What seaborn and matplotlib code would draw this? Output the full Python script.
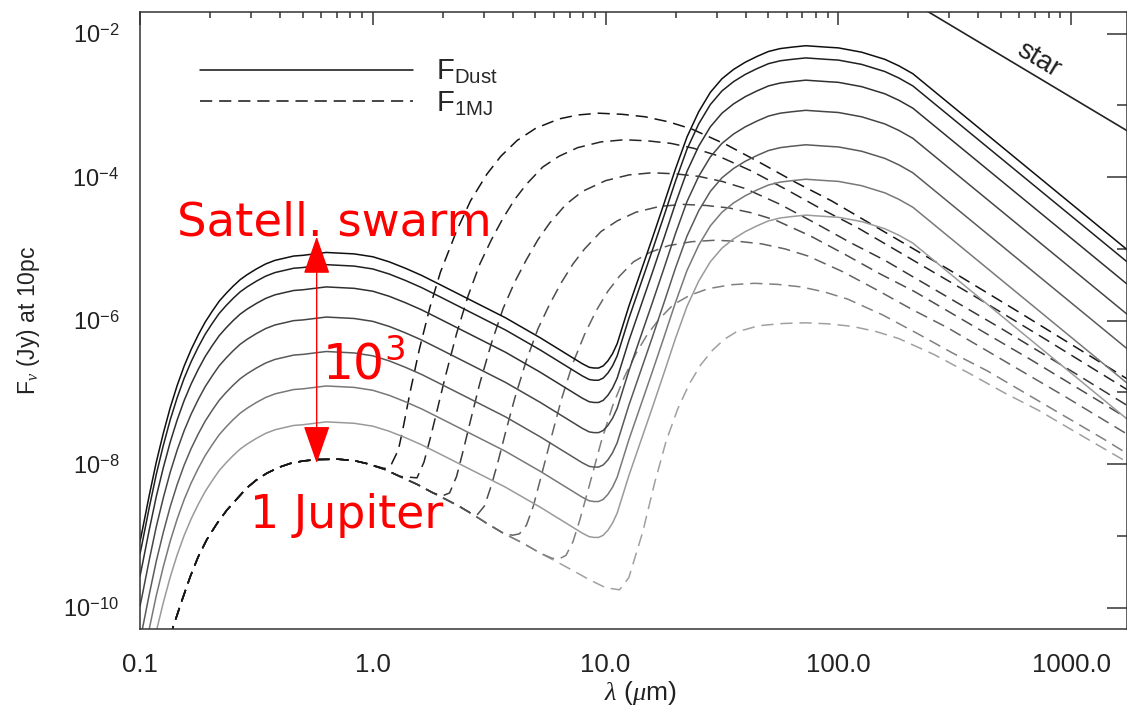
import numpy as np
import matplotlib
matplotlib.use('Agg')
import matplotlib.pyplot as plt
from matplotlib.ticker import FixedLocator, LogLocator, NullFormatter
import seaborn as sns

# all values are log10 (lambda in micron, F_nu in Jy)
dust_log_lam = [-1.0, -0.99, -0.96, -0.93, -0.9, -0.87, -0.84, -0.81, -0.78, -0.75,
                -0.72, -0.69, -0.66, -0.63, -0.6, -0.57, -0.54, -0.5, -0.46, -0.42,
                -0.38, -0.34, -0.3, -0.25, -0.2, -0.14, -0.08, 0.0, 0.07, 0.14,
                0.21, 0.29, 0.43, 0.57, 0.72, 0.86, 0.9, 0.93, 0.95, 0.97,
                0.99, 1.01, 1.03, 1.05, 1.1, 1.15, 1.2, 1.25, 1.3, 1.35,
                1.4, 1.45, 1.5, 1.55, 1.6, 1.65, 1.7, 1.75, 1.8, 1.86,
                1.95, 2.0, 2.1, 2.2, 2.26, 2.32, 3.24]

dust_1 = [-9.08, -8.92, -8.43, -7.97, -7.57, -7.21, -6.90, -6.63, -6.40, -6.20,
          -6.02, -5.87, -5.73, -5.62, -5.52, -5.43, -5.36, -5.28, -5.21, -5.16,
          -5.13, -5.10, -5.09, -5.07, -5.05, -5.06, -5.07, -5.11, -5.18, -5.27,
          -5.37, -5.50, -5.73, -5.96, -6.24, -6.52, -6.60, -6.65, -6.66, -6.66,
          -6.63, -6.56, -6.46, -6.32, -5.80, -5.33, -4.86, -4.38, -3.89, -3.44,
          -3.09, -2.82, -2.63, -2.50, -2.40, -2.32, -2.25, -2.21, -2.19, -2.17,
          -2.19, -2.20, -2.26, -2.36, -2.45, -2.56, -5.01]
dust_2 = [-9.25, -9.09, -8.60, -8.14, -7.74, -7.38, -7.07, -6.80, -6.57, -6.37,
          -6.19, -6.04, -5.90, -5.79, -5.69, -5.60, -5.53, -5.45, -5.38, -5.33,
          -5.30, -5.27, -5.26, -5.24, -5.22, -5.23, -5.24, -5.28, -5.35, -5.44,
          -5.54, -5.67, -5.90, -6.13, -6.41, -6.69, -6.77, -6.82, -6.83, -6.83,
          -6.80, -6.73, -6.63, -6.49, -5.97, -5.50, -5.03, -4.55, -4.06, -3.61,
          -3.26, -2.99, -2.80, -2.67, -2.57, -2.49, -2.42, -2.38, -2.36, -2.34,
          -2.36, -2.37, -2.43, -2.53, -2.62, -2.73, -5.18]
dust_3 = [-9.56, -9.40, -8.91, -8.45, -8.05, -7.69, -7.38, -7.11, -6.88, -6.68,
          -6.50, -6.35, -6.21, -6.10, -6.00, -5.91, -5.84, -5.76, -5.69, -5.64,
          -5.61, -5.58, -5.57, -5.55, -5.53, -5.54, -5.55, -5.59, -5.66, -5.75,
          -5.85, -5.98, -6.21, -6.44, -6.72, -7.00, -7.08, -7.13, -7.14, -7.14,
          -7.11, -7.04, -6.94, -6.80, -6.28, -5.81, -5.34, -4.86, -4.37, -3.92,
          -3.57, -3.30, -3.11, -2.98, -2.88, -2.80, -2.73, -2.69, -2.67, -2.65,
          -2.67, -2.68, -2.74, -2.84, -2.93, -3.04, -5.49]
dust_4 = [-9.98, -9.82, -9.33, -8.87, -8.47, -8.11, -7.80, -7.53, -7.30, -7.10,
          -6.92, -6.77, -6.63, -6.52, -6.42, -6.33, -6.26, -6.18, -6.11, -6.06,
          -6.03, -6.00, -5.99, -5.97, -5.95, -5.96, -5.97, -6.01, -6.08, -6.17,
          -6.27, -6.40, -6.63, -6.86, -7.14, -7.42, -7.50, -7.55, -7.56, -7.56,
          -7.53, -7.46, -7.36, -7.22, -6.70, -6.23, -5.76, -5.28, -4.79, -4.34,
          -3.99, -3.72, -3.53, -3.40, -3.30, -3.22, -3.15, -3.11, -3.09, -3.07,
          -3.09, -3.10, -3.16, -3.26, -3.35, -3.46, -5.91]
dust_5 = [-10.46, -10.30, -9.81, -9.35, -8.95, -8.59, -8.28, -8.01, -7.78, -7.58,
          -7.40, -7.25, -7.11, -7.00, -6.90, -6.81, -6.74, -6.66, -6.59, -6.54,
          -6.51, -6.48, -6.47, -6.45, -6.43, -6.44, -6.45, -6.49, -6.56, -6.65,
          -6.75, -6.88, -7.11, -7.34, -7.62, -7.90, -7.98, -8.03, -8.04, -8.04,
          -8.01, -7.94, -7.84, -7.70, -7.18, -6.71, -6.24, -5.76, -5.27, -4.82,
          -4.47, -4.20, -4.01, -3.88, -3.78, -3.70, -3.63, -3.59, -3.57, -3.55,
          -3.57, -3.58, -3.64, -3.74, -3.83, -3.94, -6.39]
dust_6 = [-10.94, -10.78, -10.29, -9.83, -9.43, -9.07, -8.76, -8.49, -8.26, -8.06,
          -7.88, -7.73, -7.59, -7.48, -7.38, -7.29, -7.22, -7.14, -7.07, -7.02,
          -6.99, -6.96, -6.95, -6.93, -6.91, -6.92, -6.93, -6.97, -7.04, -7.13,
          -7.23, -7.36, -7.59, -7.82, -8.10, -8.38, -8.46, -8.51, -8.52, -8.52,
          -8.49, -8.42, -8.32, -8.18, -7.66, -7.19, -6.72, -6.24, -5.75, -5.30,
          -4.95, -4.68, -4.49, -4.36, -4.26, -4.18, -4.11, -4.07, -4.05, -4.03,
          -4.05, -4.06, -4.12, -4.22, -4.31, -4.42, -6.87]
dust_7 = [-11.44, -11.28, -10.79, -10.33, -9.93, -9.57, -9.26, -8.99, -8.76, -8.56,
          -8.38, -8.23, -8.09, -7.98, -7.88, -7.79, -7.72, -7.64, -7.57, -7.52,
          -7.49, -7.46, -7.45, -7.43, -7.41, -7.42, -7.43, -7.47, -7.54, -7.63,
          -7.73, -7.86, -8.09, -8.32, -8.60, -8.88, -8.96, -9.01, -9.02, -9.02,
          -8.99, -8.92, -8.82, -8.68, -8.16, -7.69, -7.22, -6.74, -6.25, -5.80,
          -5.45, -5.18, -4.99, -4.86, -4.76, -4.68, -4.61, -4.57, -4.55, -4.53,
          -4.55, -4.56, -4.62, -4.72, -4.81, -4.92, -7.37]

# reflected light shared by all 1 MJ curves
planet_refl_lam = [-0.87, -0.857, -0.82, -0.784, -0.75, -0.713, -0.67, -0.627, -0.58, -0.541,
                   -0.5, -0.455, -0.4, -0.355, -0.3, -0.24, -0.15, -0.08, -0.027]
planet_refl_f = [-10.42, -10.26, -9.90, -9.565, -9.29, -9.05, -8.83, -8.64, -8.47, -8.33,
                 -8.22, -8.125, -8.04, -7.99, -7.955, -7.935, -7.93, -7.95, -7.99]

planet_1_lam = [0.05, 0.08, 0.11, 0.13, 0.16, 0.20, 0.245, 0.29, 0.36, 0.42,
                0.49, 0.55, 0.62, 0.70, 0.80, 0.88, 0.97, 1.07, 1.17, 1.27,
                1.37, 1.52, 1.67, 1.82, 1.97, 2.17, 2.47, 2.77, 3.07, 3.24]
planet_1_f = [-8.06, -8.00, -7.80, -7.50, -7.00, -6.40, -5.82, -5.33, -4.75, -4.33,
              -3.96, -3.71, -3.49, -3.32, -3.19, -3.135, -3.11, -3.125, -3.16, -3.23,
              -3.33, -3.55, -3.81, -4.08, -4.33, -4.71, -5.28, -5.87, -6.47, -6.81]
planet_2_lam = [0.05, 0.116, 0.19, 0.22, 0.25, 0.28, 0.31, 0.36, 0.41, 0.46,
                0.51, 0.56, 0.61, 0.66, 0.73, 0.80, 0.88, 0.98, 1.08, 1.18,
                1.28, 1.38, 1.48, 1.63, 1.78, 1.93, 2.08, 2.28, 2.58, 2.88,
                3.24]
planet_2_f = [-8.07, -8.17, -8.19, -7.97, -7.60, -7.20, -6.80, -6.18, -5.65, -5.21,
              -4.87, -4.57, -4.31, -4.10, -3.86, -3.71, -3.59, -3.51, -3.48, -3.495,
              -3.53, -3.60, -3.70, -3.92, -4.18, -4.45, -4.70, -5.08, -5.65, -6.24,
              -6.96]
planet_3_lam = [0.05, 0.116, 0.19, 0.259, 0.30, 0.33, 0.36, 0.39, 0.42, 0.46,
                0.51, 0.56, 0.61, 0.66, 0.71, 0.76, 0.83, 0.90, 1.00, 1.10,
                1.20, 1.30, 1.40, 1.50, 1.60, 1.75, 1.90, 2.05, 2.20, 2.40,
                2.70, 3.00, 3.24]
planet_3_f = [-8.07, -8.17, -8.28, -8.40, -8.44, -8.40, -8.17, -7.79, -7.39, -6.87,
              -6.31, -5.83, -5.46, -5.15, -4.87, -4.64, -4.38, -4.20, -4.05, -3.97,
              -3.94, -3.955, -3.99, -4.06, -4.16, -4.38, -4.64, -4.91, -5.16, -5.54,
              -6.11, -6.70, -7.18]
planet_4_lam = [0.05, 0.116, 0.19, 0.259, 0.32, 0.373, 0.43, 0.45, 0.48, 0.51,
                0.54, 0.57, 0.61, 0.66, 0.71, 0.76, 0.81, 0.86, 0.91, 0.98,
                1.05, 1.13, 1.23, 1.33, 1.43, 1.53, 1.63, 1.73, 1.88, 2.03,
                2.18, 2.33, 2.53, 2.83, 3.13, 3.24]
planet_4_f = [-8.07, -8.17, -8.28, -8.40, -8.50, -8.59, -8.70, -8.70, -8.58, -8.29,
              -7.94, -7.56, -7.08, -6.55, -6.11, -5.77, -5.47, -5.21, -5.00, -4.76,
              -4.61, -4.49, -4.41, -4.38, -4.395, -4.43, -4.50, -4.60, -4.82, -5.08,
              -5.35, -5.60, -5.98, -6.55, -7.14, -7.36]
planet_5_lam = [0.05, 0.116, 0.19, 0.259, 0.32, 0.373, 0.43, 0.488, 0.56, 0.60,
                0.63, 0.66, 0.69, 0.72, 0.76, 0.81, 0.86, 0.91, 0.96, 1.01,
                1.06, 1.12, 1.19, 1.27, 1.37, 1.47, 1.57, 1.67, 1.77, 1.87,
                2.02, 2.17, 2.32, 2.47, 2.67, 2.97, 3.24]
planet_5_f = [-8.07, -8.17, -8.28, -8.40, -8.50, -8.59, -8.70, -8.82, -8.96, -8.99,
              -8.97, -8.85, -8.58, -8.21, -7.71, -7.10, -6.59, -6.19, -5.86, -5.59,
              -5.38, -5.18, -5.05, -4.955, -4.90, -4.88, -4.895, -4.93, -5.00, -5.10,
              -5.32, -5.58, -5.85, -6.10, -6.48, -7.05, -7.58]
planet_6_lam = [0.05, 0.116, 0.19, 0.259, 0.32, 0.373, 0.43, 0.488, 0.56, 0.645,
                0.72, 0.77, 0.80, 0.83, 0.86, 0.89, 0.93, 0.98, 1.03, 1.08,
                1.13, 1.18, 1.23, 1.29, 1.36, 1.44, 1.54, 1.64, 1.74, 1.84,
                1.94, 2.04, 2.19, 2.34, 2.49, 2.64, 2.84, 3.14, 3.24]
planet_6_f = [-8.07, -8.17, -8.28, -8.40, -8.50, -8.59, -8.70, -8.82, -8.96, -9.10,
              -9.24, -9.31, -9.32, -9.27, -9.08, -8.77, -8.30, -7.70, -7.19, -6.79,
              -6.46, -6.19, -5.98, -5.78, -5.65, -5.555, -5.50, -5.48, -5.495, -5.53,
              -5.60, -5.70, -5.92, -6.18, -6.45, -6.70, -7.08, -7.65, -7.85]
planet_7_lam = [0.05, 0.116, 0.19, 0.259, 0.32, 0.373, 0.43, 0.488, 0.56, 0.645,
                0.72, 0.802, 0.87, 0.931, 1.0, 1.06, 1.10, 1.16, 1.21, 1.26,
                1.31, 1.36, 1.41, 1.46, 1.51, 1.56, 1.66, 1.76, 1.86, 1.96,
                2.06, 2.16, 2.26, 2.41, 2.56, 2.71, 2.86, 3.06, 3.24]
planet_7_f = [-8.07, -8.17, -8.28, -8.40, -8.50, -8.59, -8.70, -8.82, -8.96, -9.10,
              -9.24, -9.38, -9.50, -9.61, -9.72, -9.75, -9.58, -8.94, -8.27, -7.68,
              -7.23, -6.88, -6.61, -6.41, -6.26, -6.16, -6.07, -6.04, -6.03, -6.045,
              -6.08, -6.15, -6.25, -6.47, -6.73, -7.00, -7.25, -7.63, -7.97]

star_lam = [2.2, 3.25]
star_f = [-1.336, -3.373]

dust_colors = ['#101010', '#202020', '#303030', '#454545', '#5a5a5a', '#787878', '#9a9a9a']
planet_colors = ['#151515', '#252525', '#383838', '#4d4d4d', '#636363', '#808080', '#a0a0a0']

sns.set_theme(style='white')
plt.rcParams['font.family'] = ['Liberation Sans', 'DejaVu Sans']
plt.rcParams['mathtext.fontset'] = 'custom'
plt.rcParams['mathtext.rm'] = 'Liberation Sans'
plt.rcParams['mathtext.sf'] = 'Liberation Sans'
plt.rcParams['mathtext.it'] = 'Liberation Serif:italic'

fig = plt.figure(figsize=(11.27, 7.16), dpi=100)
ax = fig.add_axes([140 / 1127, (716 - 629.3) / 716, 987 / 1127, 617.1 / 716])
ax.set_xscale('log')
ax.set_yscale('log')

dust = [dust_1, dust_2, dust_3, dust_4, dust_5, dust_6, dust_7]
planets = [(planet_1_lam, planet_1_f), (planet_2_lam, planet_2_f), (planet_3_lam, planet_3_f),
           (planet_4_lam, planet_4_f), (planet_5_lam, planet_5_f), (planet_6_lam, planet_6_f),
           (planet_7_lam, planet_7_f)]

dash = (0, (8, 4.5))
planet_lines = []
for (pl, pf), col in reversed(list(zip(planets, planet_colors))):
    x = np.power(10.0, planet_refl_lam + pl)
    y = np.power(10.0, planet_refl_f + pf)
    sns.lineplot(x=x, y=y, ax=ax, color=col, lw=1.1, linestyle=dash,
                 estimator=None, sort=False)
    planet_lines.append(ax.lines[-1])

dust_lines = []
for vals, col in zip(dust, dust_colors):
    sns.lineplot(x=np.power(10.0, dust_log_lam), y=np.power(10.0, vals), ax=ax,
                 color=col, lw=1.1, estimator=None, sort=False)
    dust_lines.append(ax.lines[-1])

sns.lineplot(x=np.power(10.0, star_lam), y=np.power(10.0, star_f), ax=ax,
             color='#222222', lw=1.2, estimator=None, sort=False)

ax.set_xlim(0.1, 10 ** 3.24)
ax.set_ylim(10 ** -10.3, 10 ** -1.703)

ax.xaxis.set_major_locator(FixedLocator([0.1, 1, 10, 100, 1000]))
ax.set_xticklabels(['0.1', '1.0', '10.0', '100.0', '1000.0'])
ax.xaxis.set_minor_locator(LogLocator(base=10, subs=np.arange(2, 10)))
ax.xaxis.set_minor_formatter(NullFormatter())
ax.yaxis.set_major_locator(FixedLocator([1e-10, 1e-8, 1e-6, 1e-4, 1e-2]))
ax.set_yticklabels([r'$10^{-10}$', r'$10^{-8}$', r'$10^{-6}$', r'$10^{-4}$', r'$10^{-2}$'])
ax.yaxis.set_minor_locator(FixedLocator([1e-9, 1e-7, 1e-5, 1e-3]))
ax.yaxis.set_minor_formatter(NullFormatter())

ax.tick_params(which='both', direction='in', top=True, right=True,
               color='#333333', width=1.1, labelcolor='#222222')
ax.tick_params(axis='x', which='major', length=9.4, pad=17, labelsize=18.5)
ax.tick_params(axis='x', which='minor', length=4.3)
ax.tick_params(axis='y', which='major', length=14.4, pad=15, labelsize=17)
ax.tick_params(axis='y', which='minor', length=7.2)
for s in ax.spines.values():
    s.set_color('#333333')
    s.set_linewidth(1.1)

ax.set_xlabel(r'$\lambda$ ($\mu$m)', fontsize=19, color='#222222')
ax.xaxis.set_label_coords(0.5066, -0.080)
ax.set_ylabel(r'F$_\nu$ (Jy) at 10pc', fontsize=16.5, color='#222222')
ax.yaxis.set_label_coords(-0.099, 0.5)

ax.legend([dust_lines[0], planet_lines[-1]],
          [r'F$_{\mathregular{Dust}}$', r'F$_{\mathregular{1MJ}}$'],
          loc='upper left', bbox_to_anchor=(0.0608, 0.926), frameon=False,
          fontsize=21, handlelength=7.3, handletextpad=0.8, labelspacing=0.12,
          borderpad=0, borderaxespad=0)

ax.text(10 ** 2.86, 10 ** -2.37, 'star', rotation=-31, rotation_mode='anchor',
        ha='center', va='center', fontsize=20, color='#222222')

# red annotations
ax.text(10 ** -0.839, 10 ** -4.82, 'Satell. swarm', color='red', fontsize=33.5,
        family='DejaVu Sans', ha='left', va='baseline')
ax.text(10 ** -0.527, 10 ** -8.887, '1 Jupiter', color='red', fontsize=33,
        family='DejaVu Sans', ha='left', va='baseline')
ax.text(10 ** -0.218, 10 ** -6.826, r'$10^3$', color='red', fontsize=35,
        math_fontfamily='dejavusans', ha='left', va='baseline')
ax.annotate('', xy=(10 ** -0.241, 10 ** -4.83), xytext=(10 ** -0.241, 10 ** -7.986),
            arrowprops=dict(arrowstyle='<|-|>,head_length=1.2,head_width=0.42',
                            color='red', lw=1.0, shrinkA=0, shrinkB=0,
                            mutation_scale=20))

fig.savefig('out.png', dpi=100, facecolor='white')
